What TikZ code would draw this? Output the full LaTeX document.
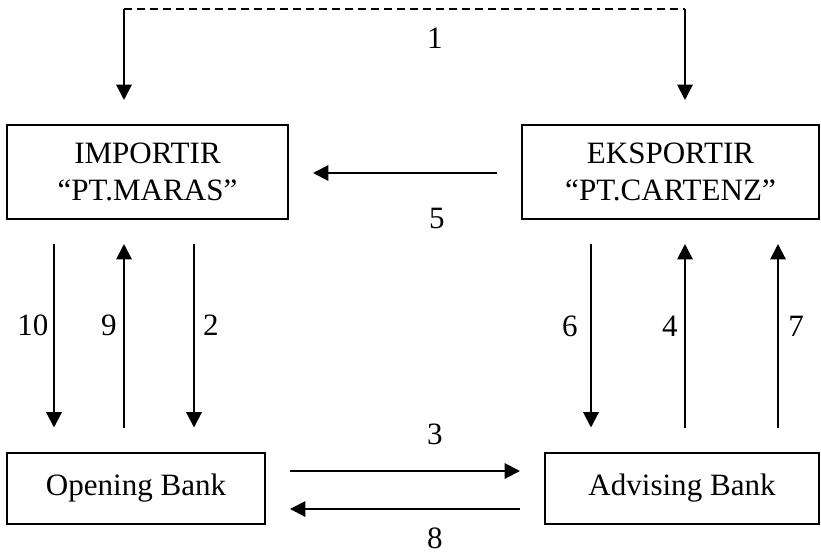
\documentclass[tikz,border=0pt]{standalone}
\usepackage{fontspec}
\setmainfont{Liberation Serif}
\usetikzlibrary{arrows.meta}
\tikzset{
  box/.style={draw,line width=0.6mm,inner sep=0pt,align=center,font=\fontsize{26.5}{31.5}\selectfont},
  flow/.style={line width=0.6mm,-{Triangle[length=4.6mm,width=4.6mm]},shorten <=7.2mm,shorten >=7.2mm},
  num/.style={inner sep=0pt,font=\fontsize{26.5}{31.5}\selectfont}
}
\begin{document}
\begin{tikzpicture}[x=0.03cm,y=-0.03cm]
\useasboundingbox (0,0) rectangle (821,554);
% boxes
\node [box,minimum width=281*0.03cm,minimum height=94*0.03cm] (imp) at (147.5,172) {IMPORTIR\\“PT.MARAS”};
\node [box,minimum width=297*0.03cm,minimum height=94*0.03cm] (eks) at (670.5,172) {EKSPORTIR\\“PT.CARTENZ”};
\node [box,minimum width=258*0.03cm,minimum height=71*0.03cm] (open) at (136,488) {Opening Bank};
\node [box,minimum width=274*0.03cm,minimum height=71*0.03cm] (adv) at (682,488) {Advising Bank};
% columns and rows
\coordinate (c10) at (54,0);
\coordinate (c9) at (124,0);
\coordinate (c2) at (194,0);
\coordinate (c6) at (591,0);
\coordinate (c4) at (685,0);
\coordinate (c7) at (778,0);
\coordinate (r5) at (0,173);
\coordinate (r3) at (0,471);
\coordinate (r8) at (0,509);
\coordinate (t1) at (124,9);
\coordinate (t2) at (685,9);
% 1
\draw [line width=0.6mm,dash pattern=on 2.4mm off 1.5mm] (t1) -- (t2);
\draw [flow,shorten <=0pt] (t1) -- (imp.north -| t1);
\draw [flow,shorten <=0pt] (t2) -- (eks.north -| t2);
% importir <-> opening bank
\draw [flow] (imp.south -| c10) -- (open.north -| c10);
\draw [flow] (open.north -| c9) -- (imp.south -| c9);
\draw [flow] (imp.south -| c2) -- (open.north -| c2);
% eksportir <-> advising bank
\draw [flow] (eks.south -| c6) -- (adv.north -| c6);
\draw [flow] (adv.north -| c4) -- (eks.south -| c4);
\draw [flow] (adv.north -| c7) -- (eks.south -| c7);
% horizontal
\draw [flow] (eks.west |- r5) -- (imp.east |- r5);
\draw [flow] (open.east |- r3) -- (adv.west |- r3);
\draw [flow] (adv.west |- r8) -- (open.east |- r8);
% numbers
\node [num] (n1) at (435,38) {1};
\node [num] (n5) at (437,218) {5};
\node [num] (n10) at (33,325) {10};
\node [num] (n9) at (109,325) {9};
\node [num] (n2) at (211,325) {2};
\node [num] (n6) at (570,326) {6};
\node [num] (n4) at (670,326) {4};
\node [num] (n7) at (796,326) {7};
\node [num] (n3) at (435,434) {3};
\node [num] (n8) at (435,538) {8};
\end{tikzpicture}
\end{document}
